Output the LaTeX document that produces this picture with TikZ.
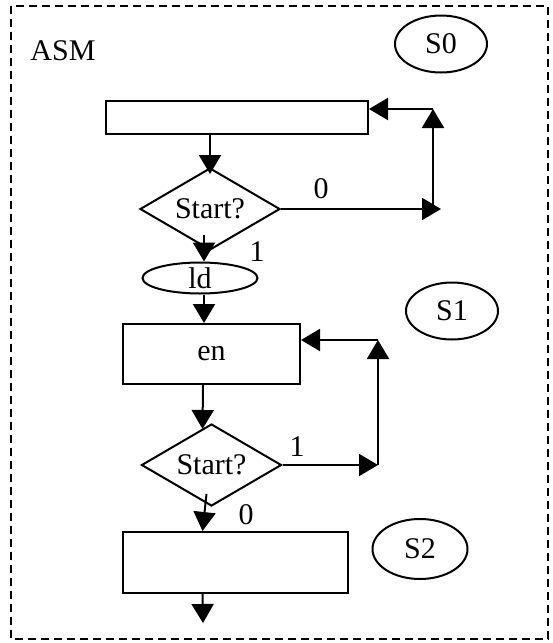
\documentclass[tikz,border=0pt]{standalone}
\usepackage{fontspec}
\setmainfont{Liberation Serif}
\usetikzlibrary{shapes.geometric,arrows.meta}

\tikzset{
  blk/.style 2 args={draw,minimum width=#1,minimum height=#2},
  dec/.style={draw,diamond,aspect=1.67,minimum width=140pt,minimum height=82pt},
  st/.style={draw,ellipse,minimum width=92pt,minimum height=57pt},
  arr/.style={-{Triangle[length=19pt,width=22pt]}}
}

\begin{document}
\begin{tikzpicture}[x=1pt,y=-1pt,node distance=80pt,line width=2pt,
    every node/.style={font=\fontsize{30}{33}\selectfont,inner sep=0pt}]
      \useasboundingbox (0,0) rectangle (553,643);
      \draw[line width=1.8pt,dash pattern=on 8pt off 5pt] (11,6) rectangle (548,639);

      \node (asm) at (63,51) {ASM};
      \node[st] (s0) at (441,44) {S0};
      \node[st] (s1) at (452,311) {S1};
      \node[st,minimum width=95pt,minimum height=60pt] (s2) at (420,549) {S2};

      \node[blk={262pt}{33pt}] (1) at (237,117.5) {};
      \node[dec,below of=1,xshift=-27pt,yshift=-11.5pt] (2) {Start?};
      \node[draw,ellipse,minimum width=115pt,minimum height=31pt,below of=2,xshift=-10pt,yshift=11pt] (3) {\raisebox{-3pt}{ld}};
      \node[blk={177pt}{60pt},below of=3,xshift=11.5pt,yshift=4pt] (4) {en};
      \node[dec,below of=4,yshift=-31pt] (5) {Start?};
      \node[blk={225pt}{61pt},below of=5,xshift=23.5pt,yshift=-17.5pt] (6) {};

      \node (l1) at (257,252) {1};
      \node (l2) at (297,447) {1};
      \node (l3) at (246,515) {0};

      \coordinate (7) at (433,109);
      \coordinate (8) at (441,209);
      \coordinate (9) at (203,623);
      \coordinate (10) at (378,340);

      % state S0
      \draw[arr] (1.south -| 2.north) -- ([yshift=-7pt]2.north);
      \draw[arr] (2.east) -- node[above,pos=0.25,yshift=9pt] (l0) {0} (8);
      \draw[arr] (2.east -| 7) -- (7);
      \draw[arr] (7) -- (1.east |- 7);
      \draw[arr] ([xshift=-6pt,yshift=16pt]2.south) -- ([xshift=4pt]3.north);

      % state S1
      \draw[arr] ([xshift=4pt]3.south) -- ([xshift=-7.5pt]4.north);
      \draw[arr] ([xshift=-8.5pt]4.south) -- ([xshift=-9pt,yshift=-6pt]5.north);
      \draw[arr] (5.east) -- (5.east -| 10);
      \draw[arr] (5.east -| 10) -- (10);
      \draw[arr] (10) -- (4.east |- 10);
      \draw[arr] ([xshift=-5pt,yshift=13pt]5.south) -- ([xshift=-32.5pt]6.north);

      % state S2
      \draw[arr] ([xshift=-32.5pt]6.south) -- (9);
    \end{tikzpicture}
\end{document}
